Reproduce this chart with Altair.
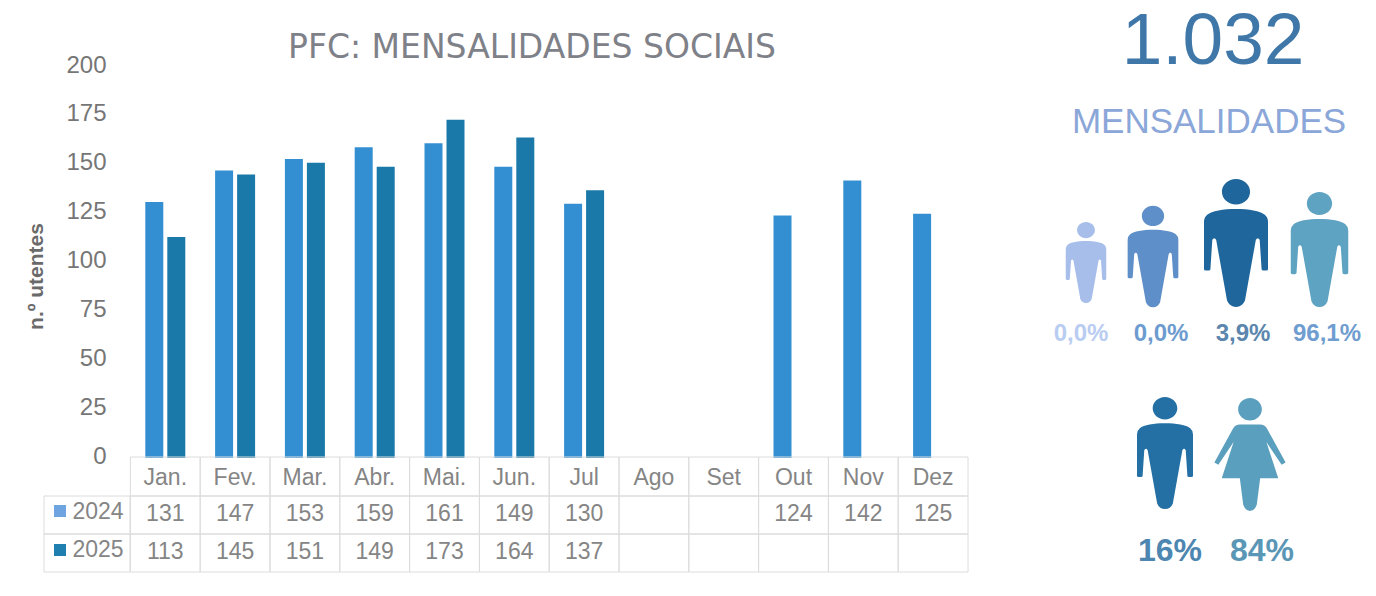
import altair as alt
import pandas as pd

months = ["Jan.", "Fev.", "Mar.", "Abr.", "Mai.", "Jun.", "Jul", "Ago", "Set", "Out", "Nov", "Dez"]
v2024 = [131, 147, 153, 159, 161, 149, 130, None, None, 124, 142, 125]
v2025 = [113, 145, 151, 149, 173, 164, 137, None, None, None, None, None]

FONT = "Liberation Sans"
GREY = "#858585"
C24, C25 = "#338fd2", "#1a79a9"

xs = alt.Scale(domain=months, range=[122.4, 960], paddingInner=0, paddingOuter=0)
ys = alt.Scale(domain=[0, 200], range=[450, 59])
X = alt.X("month:N", scale=xs, axis=None, sort=months)

d24 = pd.DataFrame({"month": months, "v": v2024}).dropna()
d25 = pd.DataFrame({"month": months, "v": v2025}).dropna()
allm = pd.DataFrame({"month": months})

y_axis = alt.Axis(values=[0, 25, 50, 75, 100, 125, 150, 175, 200], offset=-98, domain=False, ticks=False,
                  grid=False, labelFont=FONT, labelFontSize=24, labelColor="#767676", labelPadding=0,
                  labelOffset=-2, title="n.º utentes", titleFont=FONT, titleFontSize=21, titleFontWeight="bold",
                  titleColor="#6a6a6a", titleAngle=270, titleX=-70, titleY=268, titleAlign="center",
                  titleBaseline="middle")


def bars(df, color, off):
    return alt.Chart(df).mark_bar(color=color, width=18, xOffset=off).encode(
        x=X, y=alt.Y("v:Q", scale=ys, axis=y_axis))


def cells(y1, y2):
    return alt.Chart(allm).mark_rect(fill="white", fillOpacity=0, stroke="#dcdcdc", strokeWidth=1).encode(
        x=X, y=alt.value(y1), y2=alt.value(y2))


def row(df, y, field):
    return alt.Chart(df).mark_text(font=FONT, fontSize=23, color=GREY, baseline="middle", align="center").encode(
        x=X, y=alt.value(y), text=alt.Text(field))


def note(text, x, y, size, color, weight="normal", align="center", font=FONT):
    df = pd.DataFrame({"t": [text]})
    return alt.Chart(df).mark_text(font=font, fontSize=size, color=color, fontWeight=weight, align=align,
                                   baseline="middle").encode(x=alt.value(x), y=alt.value(y), text="t:N")


MAN = ("M-0.22,-0.8A0.22,0.2 0 1,1 0.22,-0.8A0.22,0.2 0 1,1 -0.22,-0.8Z"
       "M0,-0.53C0.2,-0.53 0.38,-0.5 0.45,-0.44Q0.5,-0.4 0.5,-0.33L0.5,0.41Q0.5,0.43 0.47,0.43L0.43,0.43"
       "Q0.4,0.43 0.4,0.41L0.37,-0.05Q0.34,-0.1 0.31,-0.05L0.14,0.9Q0.1,1 0,1Q-0.1,1 -0.14,0.9L-0.31,-0.05"
       "Q-0.34,-0.1 -0.37,-0.05L-0.4,0.41Q-0.4,0.43 -0.43,0.43L-0.47,0.43Q-0.5,0.43 -0.5,0.41L-0.5,-0.33"
       "Q-0.5,-0.4 -0.45,-0.44C-0.38,-0.5 -0.2,-0.53 0,-0.53Z")
WOMAN = ("M-0.21,-0.8A0.21,0.2 0 1,1 0.21,-0.8A0.21,0.2 0 1,1 -0.21,-0.8Z"
         "M-0.18,-0.53L0.18,-0.53Q0.26,-0.53 0.3,-0.46L0.63,0.14L0.56,0.18L0.29,-0.22L0.5,0.42L0.18,0.42"
         "L0.12,0.89Q0.08,1 0,1Q-0.08,1 -0.12,0.89L-0.18,0.42L-0.5,0.42L-0.29,-0.22L-0.56,0.18L-0.63,0.14"
         "L-0.3,-0.46Q-0.26,-0.53 -0.18,-0.53Z")


def icon(shape, x, y, half, color):
    df = pd.DataFrame({"k": [0]})
    return alt.Chart(df).mark_point(shape=shape, size=(2 * half) ** 2, filled=True, fill=color, opacity=1,
                                    strokeWidth=0).encode(x=alt.value(x), y=alt.value(y))


def key(x1, x2, y1, y2, color):
    df = pd.DataFrame({"k": [0]})
    return alt.Chart(df).mark_rect(color=color).encode(x=alt.value(x1), x2=alt.value(x2),
                                                       y=alt.value(y1), y2=alt.value(y2))


def box(x1, x2, y1, y2):
    df = pd.DataFrame({"k": [0]})
    return alt.Chart(df).mark_rect(fillOpacity=0, fill="white", stroke="#dcdcdc").encode(
        x=alt.value(x1), x2=alt.value(x2), y=alt.value(y1), y2=alt.value(y2))


layers = [
    bars(d24, C24, -11), bars(d25, C25, 11),
    cells(449, 488), cells(488, 526), cells(526, 564),
    box(36, 122, 488, 526), box(36, 122, 526, 564),
    row(allm, 470, "month:N"), row(d24.astype({"v": int}), 506, "v:Q"), row(d25.astype({"v": int}), 543.5, "v:Q"),
    key(46, 58, 497, 509, "#6ea5e0"), key(46, 58, 536, 548, "#1f7fae"),
    note("2024", 90, 504, 23, GREY), note("2025", 90, 542, 23, GREY),
    note("PFC: MENSALIDADES SOCIAIS", 524, 40, 33, "#7f8189", font="DejaVu Sans"),
    note("1.032", 1205, 34, 73, "#3f78a8"),
    note("MENSALIDADES", 1201, 114, 35, "#8ba6d8"),
    icon(MAN, 1078, 254.5, 40.5, "#a6bee9"), icon(MAN, 1145, 248.5, 50.7, "#5f8fc8"),
    icon(MAN, 1228, 235, 64, "#1f669c"), icon(MAN, 1311.5, 241.5, 57.5, "#5fa3c2"),
    icon(MAN, 1157, 445, 56, "#2470a5"), icon(WOMAN, 1242, 446.5, 56.5, "#5b9fbe"),
    note("0,0%", 1073, 326, 24, "#b9ccf1", "bold"), note("0,0%", 1153, 326, 24, "#6d9bd0", "bold"),
    note("3,9%", 1235, 326, 24, "#5b86ae", "bold"), note("96,1%", 1319, 326, 24, "#6f9dd0", "bold"),
    note("16%", 1162, 543, 32, "#4d86b0", "bold"), note("84%", 1254, 543, 32, "#5a96b5", "bold"),
]

chart = alt.layer(*layers).properties(
    width=1360, height=580, padding=0, autosize=alt.AutoSizeParams(type="none"), background="white"
).configure_view(stroke=None)

chart.save("out.html", embed_options={"renderer": "svg", "actions": False})
